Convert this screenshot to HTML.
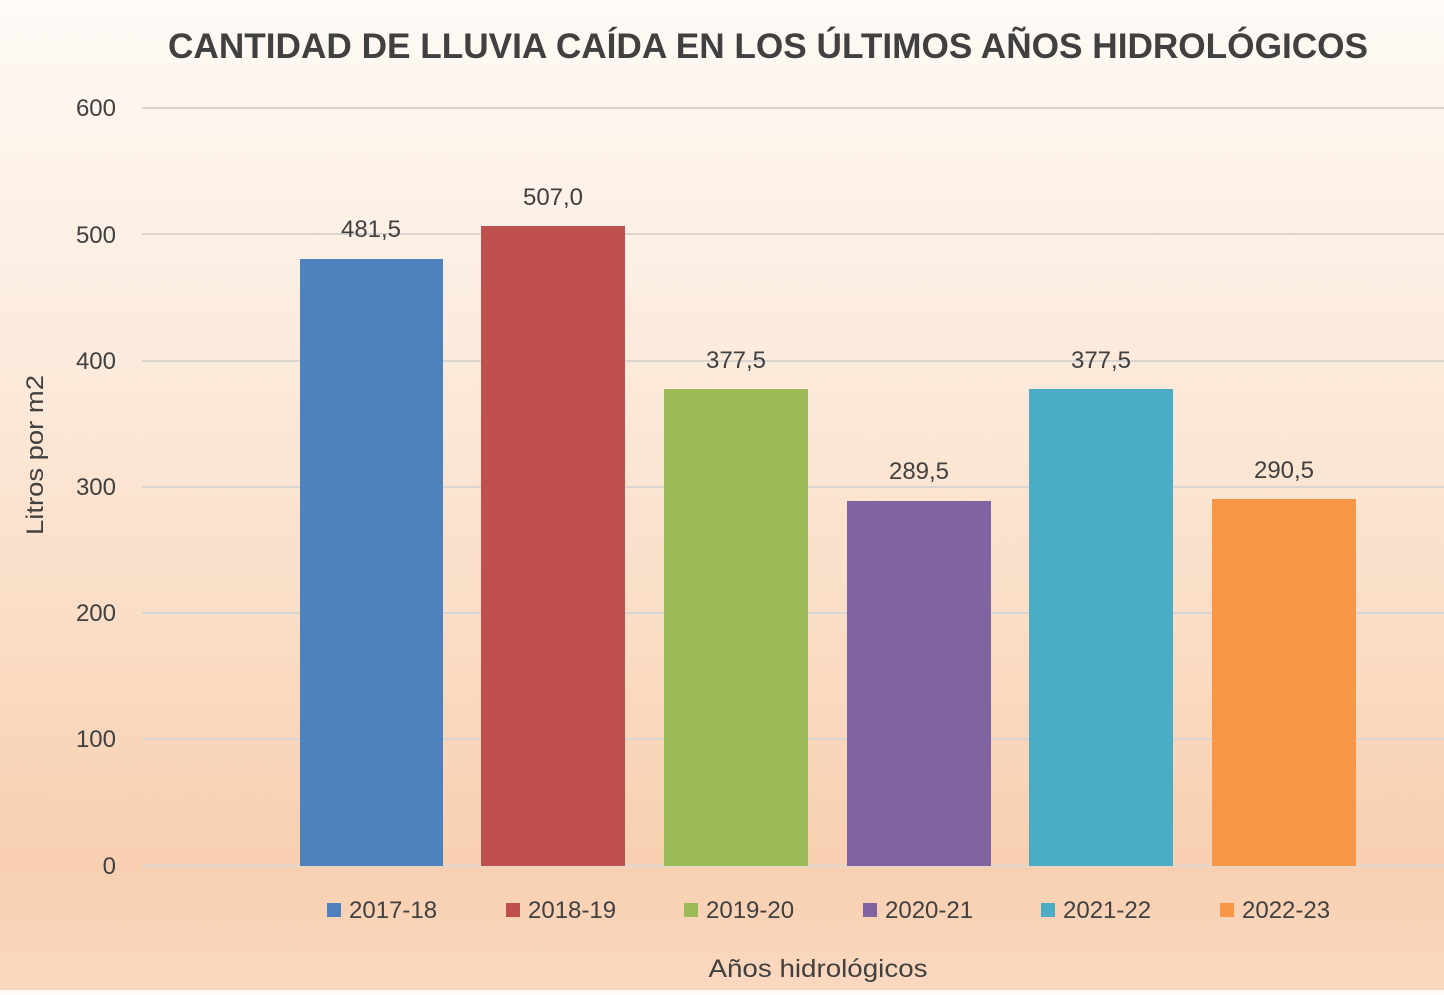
<!DOCTYPE html>
<html><head><meta charset="utf-8"><style>
html,body{margin:0;padding:0}
body{width:1444px;height:990px;overflow:hidden;background:linear-gradient(180deg,#fefaf6 0%,#fcebdd 35%,#fadcc4 65%,#f8cfb0 87%,#fad8bf 100%)}
text{font-family:"Liberation Sans",sans-serif;fill:#404040}
</style></head><body>
<svg width="1444" height="990" xmlns="http://www.w3.org/2000/svg">
<text x="768" y="58" text-anchor="middle" font-size="35" font-weight="bold" fill="#404040" textLength="1200" lengthAdjust="spacingAndGlyphs">CANTIDAD DE LLUVIA CAÍDA EN LOS ÚLTIMOS AÑOS HIDROLÓGICOS</text>
<g stroke="#d9d4cf" stroke-width="2">
<line x1="142" x2="1444" y1="108" y2="108"/><line x1="142" x2="1444" y1="234" y2="234"/>
<line x1="142" x2="1444" y1="361" y2="361"/><line x1="142" x2="1444" y1="487" y2="487"/>
<line x1="142" x2="1444" y1="613" y2="613"/><line x1="142" x2="1444" y1="739" y2="739"/>
<line x1="142" x2="1444" y1="866" y2="866" stroke="#e6d6c8" stroke-width="3"/>
</g>
<g font-size="24" text-anchor="end">
<text x="116" y="116">600</text><text x="116" y="243">500</text><text x="116" y="369">400</text>
<text x="116" y="495">300</text><text x="116" y="621">200</text><text x="116" y="747">100</text><text x="116" y="874">0</text>
</g>
<text transform="translate(43,455) rotate(-90)" text-anchor="middle" font-size="24" textLength="160" lengthAdjust="spacingAndGlyphs">Litros por m2</text>
<rect x="300" y="259" width="143" height="607" fill="#4f81bd"/>
<rect x="481" y="226" width="144" height="640" fill="#c0504d"/>
<rect x="664" y="389" width="144" height="477" fill="#9bbb59"/>
<rect x="847" y="501" width="144" height="365" fill="#8064a2"/>
<rect x="1029" y="389" width="144" height="477" fill="#4bacc6"/>
<rect x="1212" y="499" width="144" height="367" fill="#f79646"/>
<g font-size="24" text-anchor="middle">
<text x="371" y="237">481,5</text><text x="553" y="205">507,0</text><text x="736" y="368">377,5</text>
<text x="919" y="479">289,5</text><text x="1101" y="368">377,5</text><text x="1284" y="478">290,5</text>
</g>
<g font-size="24">
<rect x="327" y="903" width="14" height="14" fill="#4f81bd"/><text x="349" y="918">2017-18</text>
<rect x="506" y="903" width="14" height="14" fill="#c0504d"/><text x="528" y="918">2018-19</text>
<rect x="684" y="903" width="14" height="14" fill="#9bbb59"/><text x="706" y="918">2019-20</text>
<rect x="863" y="903" width="14" height="14" fill="#8064a2"/><text x="885" y="918">2020-21</text>
<rect x="1041" y="903" width="14" height="14" fill="#4bacc6"/><text x="1063" y="918">2021-22</text>
<rect x="1220" y="903" width="14" height="14" fill="#f79646"/><text x="1242" y="918">2022-23</text>
</g>
<text x="818" y="977" text-anchor="middle" font-size="25" textLength="219" lengthAdjust="spacingAndGlyphs">Años hidrológicos</text>
</svg>
</body></html>
